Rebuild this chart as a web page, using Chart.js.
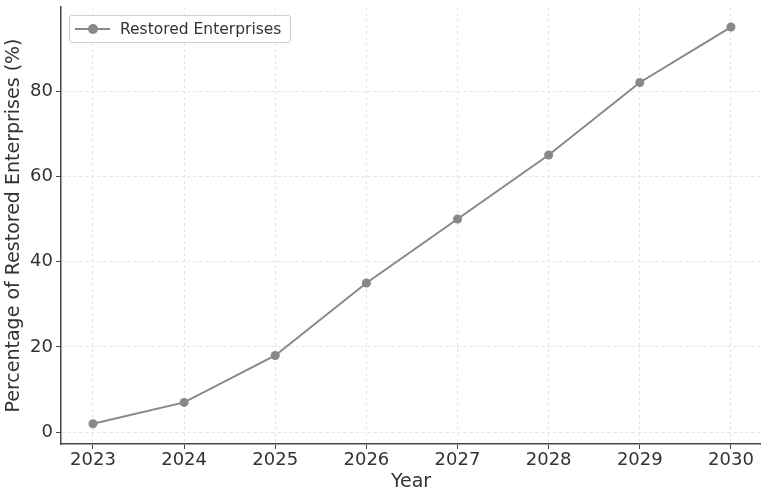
<!DOCTYPE html>
<html>
<head>
<meta charset="utf-8">
<script src="https://cdn.jsdelivr.net/npm/chart.js@4"></script>
<style>
html,body{margin:0;padding:0;background:#fff;}
#wrap{position:relative;width:761px;height:493px;}
#legend{position:absolute;left:69px;top:15px;width:222px;height:28px;border:1px solid #d0d0d0;border-radius:3px;background:rgba(255,255,255,0.85);font-family:"DejaVu Sans",sans-serif;font-size:15.5px;color:#333;box-sizing:border-box;}
#legend .mk{position:absolute;left:5px;top:12px;width:35px;height:2px;background:#888;}
#legend .dot{position:absolute;left:13px;top:-4px;width:10px;height:10px;border-radius:50%;background:#888;}
#legend .tx{position:absolute;left:50px;top:4px;white-space:nowrap;}
</style>
</head>
<body>
<div id="wrap">
<canvas id="c" width="761" height="493"></canvas>
<div id="legend"><div class="mk"><div class="dot"></div></div><div class="tx">Restored Enterprises</div></div>
</div>
<script>
const years = [2023, 2024, 2025, 2026, 2027, 2028, 2029, 2030];
const restoredPct = [2, 7, 18, 35, 50, 65, 82, 95];
const yTicks = [0, 20, 40, 60, 80];
const seriesName = "Restored Enterprises";
const xTitle = "Year";
const yTitle = "Percentage of Restored Enterprises (%)";

const font = "DejaVu Sans";
const ctx = document.getElementById('c');
new Chart(ctx, {
  type: 'line',
  data: {
    datasets: [{
      label: seriesName,
      data: years.map((y, i) => ({x: y, y: restoredPct[i]})),
      borderColor: '#888888',
      backgroundColor: '#888888',
      borderWidth: 2,
      pointRadius: 4.5,
      pointHoverRadius: 4.5,
      pointBackgroundColor: '#888888',
      pointBorderWidth: 0,
      tension: 0,
      clip: false
    }]
  },
  options: {
    responsive: false,
    animation: false,
    layout: {autoPadding: false, padding: {top: 7, right: 0, left: 0, bottom: 0}},
    plugins: {legend: {display: false}, tooltip: {enabled: false}},
    scales: {
      x: {
        type: 'linear',
        min: 2022.649,
        max: 2030.33,
        afterBuildTicks: s => { s.ticks = years.map(v => ({value: v})); },
        afterFit: s => { s.height = 49; s.paddingLeft = 0; s.paddingRight = 0; },
        ticks: {
          font: {family: font, size: 18},
          color: '#333',
          padding: 1,
          callback: v => String(v),
          maxRotation: 0
        },
        grid: {
          color: '#e3e3e3',
          tickLength: 5,
          tickColor: '#444',
          tickBorderDash: [],
          lineWidth: 1
        },
        border: {display: true, color: '#444', width: 1.5, dash: [3, 3]},
        title: {display: true, text: xTitle, font: {family: font, size: 19}, color: '#333', padding: {top: 0, bottom: 0}}
      },
      y: {
        type: 'linear',
        min: -2.75,
        max: 99.7,
        afterBuildTicks: s => { s.ticks = yTicks.map(v => ({value: v})); },
        afterFit: s => { s.width = 61; s.paddingTop = 0; s.paddingBottom = 0; },
        ticks: {
          font: {family: font, size: 18},
          color: '#333',
          padding: 3
        },
        grid: {
          color: '#e3e3e3',
          tickLength: 5,
          tickColor: '#444',
          tickBorderDash: [],
          lineWidth: 1
        },
        border: {display: true, color: '#444', width: 1.5, dash: [3, 3]},
        title: {display: true, text: yTitle, font: {family: font, size: 19}, color: '#333', padding: {top: 3, bottom: 0}}
      }
    }
  }
});
</script>
</body>
</html>
